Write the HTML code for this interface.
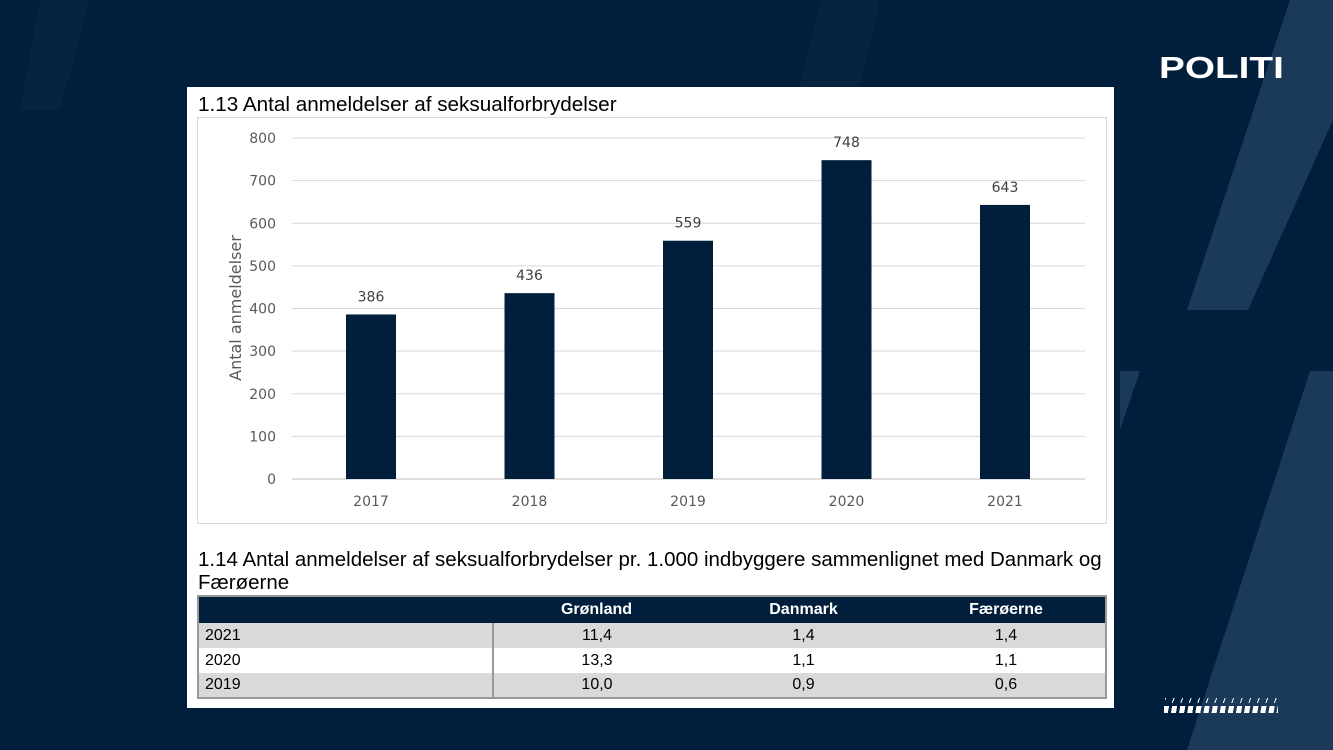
<!DOCTYPE html>
<html><head><meta charset="utf-8"><style>
body{margin:0;width:1333px;height:750px;overflow:hidden;background:#011e3c;font-family:"Liberation Sans",sans-serif;position:relative}
.abs{position:absolute}
table{border-collapse:collapse}
</style></head><body>
<svg class="abs" style="left:0;top:0" width="1333" height="750">
<polygon points="1290,0 1333,0 1333,120 1248,310 1187,310" fill="#1b3a5a"/>
<polygon points="40,0 90,0 60,110 20,110" fill="#06233f"/>
<polygon points="1120,371 1140,371 1120,430" fill="#1b3a5a"/>
<polygon points="1310,371 1333,371 1333,750 1187,750" fill="#1b3a5a"/>
<polygon points="820,0 880,0 860,87 800,87" fill="#06233f"/>
</svg>
<div class="abs" style="left:1159px;top:50px;color:#fff;font-weight:bold;font-size:31px;letter-spacing:0px;transform:scaleX(1.25);transform-origin:left;font-family:'Liberation Sans',sans-serif">POLITI</div>
<div class="abs" style="left:1165px;top:698px;width:112px;height:5px;background:repeating-linear-gradient(110deg,#fff 0 1px,transparent 1px 8px)"></div>
<div class="abs" style="left:1164px;top:706px;width:114px;height:7px;background:repeating-linear-gradient(100deg,#fff 0 5px,transparent 5px 8px)"></div>
<div class="abs" style="left:187px;top:87px;width:927px;height:621px;background:#fff"></div>
<div class="abs" style="left:198px;top:93px;font-size:20.7px;color:#000">1.13 Antal anmeldelser af seksualforbrydelser</div>
<div class="abs" style="left:197px;top:117px;width:908px;height:405px;border:1px solid #d9d9d9"></div>
<svg class="abs" style="left:0;top:0" width="1333" height="750" id="chart"></svg>
<div class="abs" style="left:198px;top:548px;font-size:20.5px;line-height:23px;color:#000;width:915px;white-space:nowrap">1.14 Antal anmeldelser af seksualforbrydelser pr. 1.000 indbyggere sammenlignet med Danmark og<br>Færøerne</div>
<table class="abs" style="left:197px;top:595px;width:910px;border:2px solid #999;font-size:16px">
<tr style="background:#011e3c;color:#fff;font-weight:bold;height:27px"><td style="width:292px"></td><td style="text-align:center;width:205px">Grønland</td><td style="text-align:center;width:205px">Danmark</td><td style="text-align:center">Færøerne</td></tr>
<tr style="background:#d9d9d9;height:25px"><td style="border-right:2px solid #999;padding-left:6px">2021</td><td style="text-align:center">11,4</td><td style="text-align:center">1,4</td><td style="text-align:center">1,4</td></tr>
<tr style="background:#fff;height:25px"><td style="border-right:2px solid #999;padding-left:6px">2020</td><td style="text-align:center">13,3</td><td style="text-align:center">1,1</td><td style="text-align:center">1,1</td></tr>
<tr style="background:#d9d9d9;height:25px"><td style="border-right:2px solid #999;padding-left:6px">2019</td><td style="text-align:center">10,0</td><td style="text-align:center">0,9</td><td style="text-align:center">0,6</td></tr>
</table>
<script>
const categories=["2017","2018","2019","2020","2021"];
const values=[386,436,559,748,643];
const ticks=[0,100,200,300,400,500,600,700,800];
const svg=document.getElementById('chart');const NS='http://www.w3.org/2000/svg';
const y=v=>479-v*(479-138)/800;
const x=i=>371+i*158.5;
function mk(t,a,txt){const e=document.createElementNS(NS,t);for(const k in a)e.setAttribute(k,a[k]);if(txt!=null)e.textContent=txt;svg.appendChild(e);return e;}
ticks.forEach(t=>{
 const l=mk('line',{x1:292,x2:1085,y1:y(t),y2:y(t),stroke:t===0?'#bfbfbf':'#d9d9d9','stroke-width':1});
 
 
 const tx=mk('text',{x:276,y:y(t)+5,'text-anchor':'end','font-size':14,fill:'#595959','font-family':'DejaVu Sans, sans-serif'},t);
 
 
});
categories.forEach((c,i)=>{
 const b=mk('rect',{x:x(i)-25,y:y(values[i]),width:50,height:y(0)-y(values[i]),fill:'#011e3c'});
 
 
 const v=mk('text',{x:x(i),y:y(values[i])-13,'text-anchor':'middle','font-size':14,fill:'#404040','font-family':'DejaVu Sans, sans-serif'},values[i]);
 
 
 const xl=mk('text',{x:x(i),y:506,'text-anchor':'middle','font-size':14,fill:'#595959','font-family':'DejaVu Sans, sans-serif'},c);
 
 
});
const at=mk('text',{x:0,y:0,transform:'translate(241,308) rotate(-90)','text-anchor':'middle','font-size':16,fill:'#595959','font-family':'DejaVu Sans, sans-serif'},'Antal anmeldelser');


</script>
</body></html>
